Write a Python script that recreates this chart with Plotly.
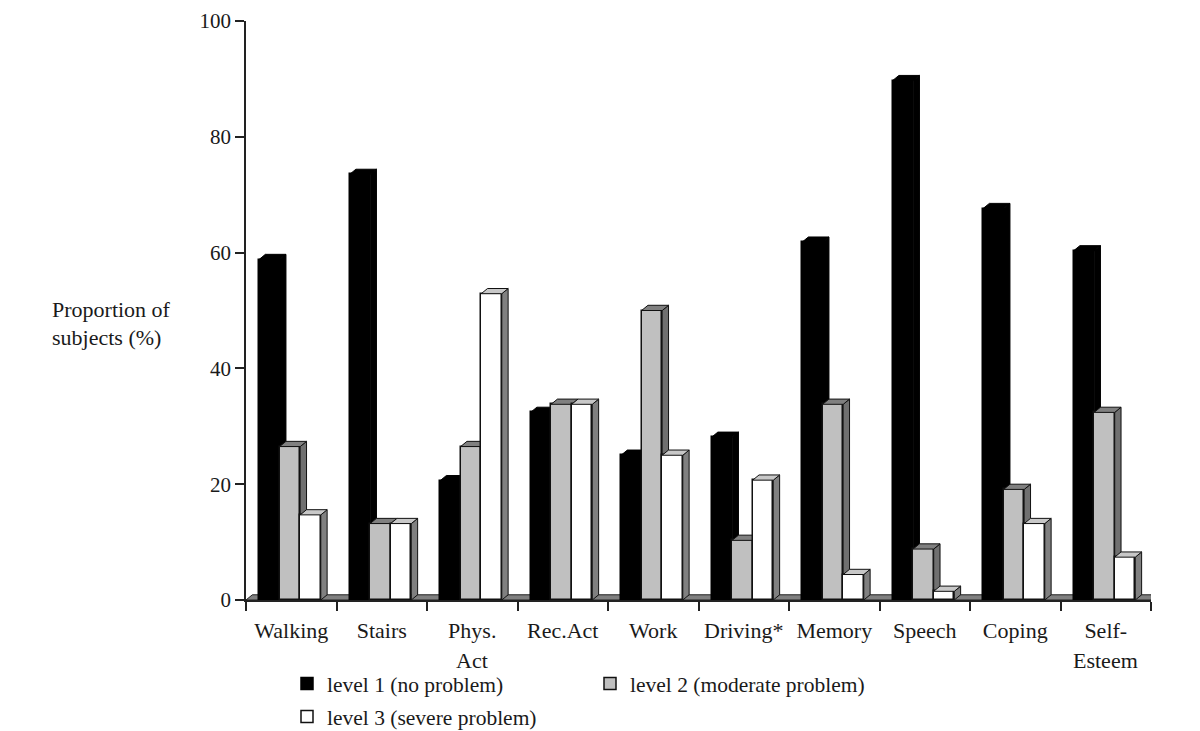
import plotly.graph_objects as go

# --------------------- DATA ---------------------

tick_labels = ["Walking", "Stairs", "Phys.", "Rec.Act", "Work", "Driving*", "Memory", "Speech", "Coping", "Self-"]
second_lines = ["", "", "Act", "", "", "", "", "", "", "Esteem"]

level1 = [58.8, 73.5, 20.6, 32.4, 25.0, 28.1, 61.8, 89.7, 67.6, 60.3]
level2 = [26.5, 13.2, 26.5, 33.8, 50.0, 10.3, 33.8, 8.8, 19.1, 32.4]
level3 = [14.7, 13.2, 52.9, 33.8, 25.0, 20.7, 4.4, 1.5, 13.2, 7.4]

names = ["level 1 (no problem)", "level 2 (moderate problem)", "level 3 (severe problem)"]

# --------------------- STYLE ---------------------

FONT = "Liberation Serif"
INK = "#1a1a1a"
PAGE = 8  # the browser's body margin
# figure runs past the window bottom so the last legend never pushes the margins
FIG_W, FIG_H = 1192, 770
MARGIN_T, MARGIN_B = 13, 14

bar_w = 0.2275
group_start = 0.144
depth_x = 0.07   # fake 3D depth, in axis units
depth_y = 0.9

front_colors = ["#000000", "#c0c0c0", "#ffffff"]
top_colors = ["#000000", "#808080", "#c8c8c8"]
side_colors = ["#000000", "#707070", "#808080"]
edge_colors = ["#000000", "#111111", "#111111"]
# page position of each legend entry (px)
legend_px = [(287, 663), (590, 663), (287, 696)]


def fx_page(page_x):
    return (page_x - PAGE) / FIG_W


def fy_page(page_y):
    return 1 - (page_y - PAGE - MARGIN_T) / (FIG_H - MARGIN_T - MARGIN_B)


def polygons(shapes):
    xs, ys = [], []
    for shape in shapes:
        xs += [p[0] for p in shape] + [shape[0][0], None]
        ys += [p[1] for p in shape] + [shape[0][1], None]
    return xs, ys


x_domain = [fx_page(246), fx_page(1151)]
y_domain = [fy_page(600), fy_page(21)]

fig = go.Figure()

# floor of the chart
fx, fy = polygons([[(0, 0), (depth_x, depth_y), (10 + depth_x, depth_y), (10, 0)]])
fig.add_trace(go.Scatter(x=fx, y=fy, mode="lines", fill="toself", fillcolor="#808080",
                         line=dict(color="#222222", width=1), showlegend=False,
                         hoverinfo="skip", cliponaxis=False))

# one overlaid subplot per level so that each level paints over the previous one
for s, values in enumerate([level1, level2, level3]):
    xa = "x%d" % (s + 2)
    ya = "y%d" % (s + 2)
    lefts = [i + group_start + s * bar_w for i in range(len(values))]
    tops = []
    sides = []
    for x0, v in zip(lefts, values):
        x1 = x0 + bar_w
        tops.append([(x0, v), (x0 + depth_x, v + depth_y), (x1 + depth_x, v + depth_y), (x1, v)])
        sides.append([(x1, 0), (x1 + depth_x, depth_y), (x1 + depth_x, v + depth_y), (x1, v)])

    fig.add_trace(go.Bar(x=[x0 + bar_w / 2 for x0 in lefts], y=values, width=bar_w, name=names[s],
                         marker=dict(color=front_colors[s], line=dict(color=edge_colors[s], width=1.5)),
                         xaxis=xa, yaxis=ya, legend="legend" if s == 0 else "legend%d" % (s + 1)))
    for shapes, colour in [(sides, side_colors[s]), (tops, top_colors[s])]:
        px, py = polygons(shapes)
        fig.add_trace(go.Scatter(x=px, y=py, mode="lines", fill="toself", fillcolor=colour,
                                 line=dict(color=edge_colors[s], width=1), showlegend=False,
                                 hoverinfo="skip", xaxis=xa, yaxis=ya, cliponaxis=False))

for i, text in enumerate(second_lines):
    if text:
        fig.add_annotation(x=i + 0.5, xref="x", y=fy_page(660), yref="paper", text=text, showarrow=False,
                           yanchor="middle", font=dict(family=FONT, size=22, color=INK))

for text, y in [("Proportion of", 309), ("subjects (%)", 337)]:
    fig.add_annotation(x=fx_page(50), xref="paper", xanchor="left", y=fy_page(y), yref="paper",
                       yanchor="middle", text=text, showarrow=False,
                       font=dict(family=FONT, size=22, color=INK))

layout_axes = {}
for n in (2, 3, 4):
    layout_axes["xaxis%d" % n] = dict(overlaying="x", matches="x", anchor="y%d" % n, visible=False,
                                      domain=x_domain)
    layout_axes["yaxis%d" % n] = dict(overlaying="y", matches="y", anchor="x%d" % n, visible=False,
                                      domain=y_domain)

# category names sit between the tick marks, so they live on the first overlay axis
layout_axes["xaxis2"] = dict(overlaying="x", matches="x", anchor="y2", domain=x_domain,
                             showline=False, showgrid=False,
                             zeroline=False, tickmode="array",
                             tickvals=[i + 0.5 for i in range(len(tick_labels))], ticktext=tick_labels,
                             ticks="outside", ticklen=11, tickcolor="rgba(0,0,0,0)",
                             tickfont=dict(family=FONT, size=22, color=INK))

for k, (px, py) in enumerate(legend_px):
    layout_axes["legend" if k == 0 else "legend%d" % (k + 1)] = dict(
        x=fx_page(px), xanchor="left", y=fy_page(py), yanchor="top",
        bgcolor="rgba(0,0,0,0)", font=dict(family=FONT, size=21.5, color=INK),
        itemclick=False, itemdoubleclick=False)

fig.update_layout(
    width=FIG_W, height=FIG_H,
    autosize=False,
    margin=dict(l=0, r=0, t=MARGIN_T, b=MARGIN_B, pad=0),
    paper_bgcolor="white", plot_bgcolor="white",
    font=dict(family=FONT, size=22, color=INK),
    bargap=0,
    barmode="overlay",
    xaxis=dict(domain=x_domain, range=[0, 10], tickmode="array", tickvals=list(range(11)), ticktext=[""] * 11,
               ticks="outside", ticklen=9, tickwidth=1.5, tickcolor="#222222",
               showline=True, linecolor="#222222", linewidth=1.5, showgrid=False, zeroline=False),
    yaxis=dict(domain=y_domain, range=[0, 100], tickmode="array", tickvals=[0, 20, 40, 60, 80, 100],
               ticks="outside", ticklen=9, tickwidth=1.5, tickcolor="#222222",
               showline=True, linecolor="#222222", linewidth=1.5, showgrid=False, zeroline=False,
               tickfont=dict(family=FONT, size=21, color=INK)),
    **layout_axes,
)

fig.write_html("out.html")
